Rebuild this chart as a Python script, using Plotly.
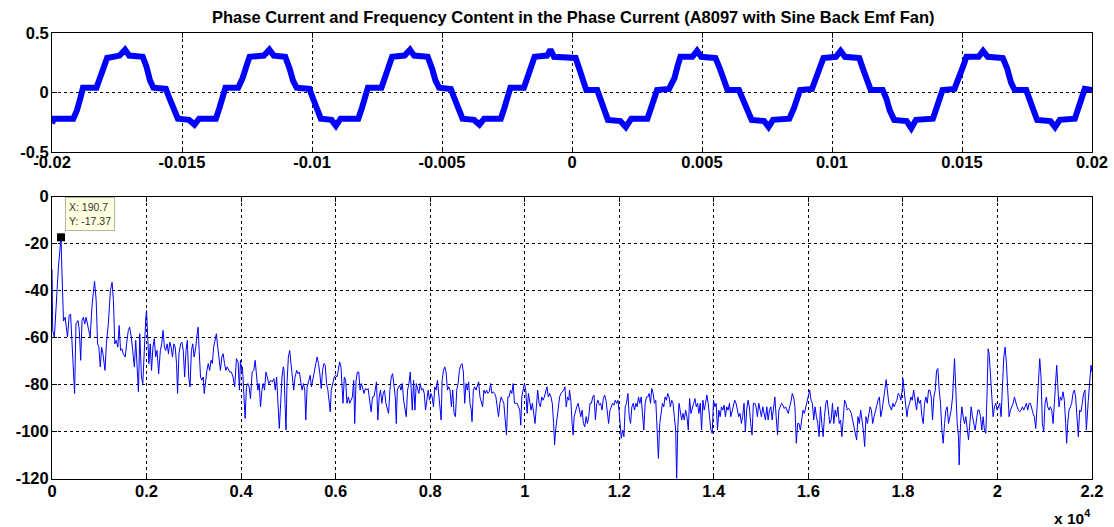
import plotly.graph_objects as go

# ---------------------------------------------------------------------------
# Data
# ---------------------------------------------------------------------------
title_text = ("Phase Current and Frequency Content in the Phase Current "
              "(A8097 with Sine Back Emf Fan)")

# Phase current waveform (time in ms, current in A)
time_ms = [
    -20.00, -19.93, -19.18, -19.04, -18.90, -18.81, -18.29, -18.18, -18.01, -17.88,
    -17.40, -17.19, -17.03, -16.51, -16.37, -16.23, -16.10, -15.62, -15.48, -15.30,
    -15.16, -14.73, -14.52, -14.34, -13.70, -13.56, -13.42, -13.33, -12.84, -12.67,
    -12.51, -12.40, -11.85, -11.64, -11.47, -11.03, -10.86, -10.73, -10.59, -10.10,
    -9.96, -9.79, -9.66, -9.25, -9.08, -8.90, -8.22, -8.08, -7.95, -7.85,
    -7.33, -7.19, -7.03, -6.92, -6.44, -6.23, -6.07, -5.55, -5.38, -5.25,
    -5.11, -4.66, -4.52, -4.34, -4.21, -3.77, -3.56, -3.38, -2.74, -2.60,
    -2.47, -2.37, -1.85, -1.71, -1.55, -1.44, -0.96, -0.83, -0.69, 0.14,
    0.28, 0.48, 0.55, 0.97, 1.10, 1.24, 1.38, 1.86, 2.07, 2.28,
    2.90, 3.04, 3.18, 3.27, 3.73, 3.94, 4.07, 4.17, 4.63, 4.81,
    4.97, 5.52, 5.69, 5.87, 5.98, 6.42, 6.56, 6.74, 6.91, 7.39,
    7.56, 7.73, 8.36, 8.54, 8.67, 8.77, 9.23, 9.39, 9.56, 9.67,
    10.15, 10.33, 10.50, 11.05, 11.19, 11.35, 11.49, 11.95, 12.09, 12.22,
    12.39, 12.87, 13.05, 13.23, 13.88, 14.02, 14.16, 14.25, 14.71, 14.89,
    15.06, 15.17, 15.64, 15.81, 15.99, 16.57, 16.74, 16.89, 17.03, 17.47,
    17.61, 17.75, 17.89, 18.40, 18.58, 18.76, 19.34, 19.48, 19.61, 19.72,
    20.00,
]
current_a = [
    -0.26, -0.22, -0.22, -0.15, -0.04, 0.04, 0.04, 0.10, 0.22, 0.29,
    0.31, 0.36, 0.31, 0.30, 0.22, 0.10, 0.04, 0.03, -0.05, -0.15,
    -0.22, -0.23, -0.27, -0.22, -0.22, -0.13, -0.02, 0.04, 0.04, 0.12,
    0.23, 0.30, 0.31, 0.36, 0.31, 0.30, 0.20, 0.10, 0.04, 0.03,
    -0.05, -0.15, -0.22, -0.23, -0.28, -0.22, -0.22, -0.13, -0.02, 0.04,
    0.04, 0.12, 0.23, 0.30, 0.31, 0.36, 0.31, 0.30, 0.20, 0.10,
    0.04, 0.03, -0.05, -0.15, -0.22, -0.23, -0.27, -0.22, -0.22, -0.13,
    -0.02, 0.04, 0.04, 0.12, 0.23, 0.30, 0.31, 0.36, 0.30, 0.29,
    0.20, 0.06, 0.02, 0.02, -0.05, -0.13, -0.23, -0.24, -0.29, -0.22,
    -0.22, -0.13, -0.02, 0.02, 0.03, 0.12, 0.23, 0.30, 0.30, 0.35,
    0.30, 0.29, 0.20, 0.08, 0.02, 0.02, -0.05, -0.15, -0.23, -0.24,
    -0.29, -0.23, -0.22, -0.13, -0.04, 0.02, 0.03, 0.12, 0.23, 0.29,
    0.30, 0.35, 0.30, 0.29, 0.20, 0.08, 0.02, 0.02, -0.05, -0.15,
    -0.23, -0.24, -0.30, -0.23, -0.22, -0.13, -0.02, 0.02, 0.03, 0.12,
    0.23, 0.30, 0.30, 0.35, 0.30, 0.29, 0.20, 0.08, 0.02, 0.02,
    -0.05, -0.15, -0.23, -0.24, -0.29, -0.23, -0.22, -0.13, -0.02, 0.03,
    0.02,
]

# Spectrum of the phase current (frequency in Hz, magnitude in dB)
freq_hz = [
    0, 15, 50, 79, 107, 136, 164, 190.7, 207, 221, 243, 278, 300, 328, 364, 393,
    421, 457, 478, 507, 550, 578, 607, 635, 664, 693, 721, 764, 807, 850, 900, 935,
    964, 992, 1021, 1050, 1078, 1121, 1150, 1192, 1235, 1271, 1300, 1328, 1357, 1392,
    1421, 1450, 1478, 1507, 1550, 1578, 1614, 1642, 1678, 1707, 1742, 1771, 1800, 1828,
    1857, 1892, 1921, 1956, 1985, 2000, 2021, 2049, 2078, 2106, 2135, 2164, 2192, 2221,
    2256, 2292, 2321, 2349, 2378, 2406, 2435, 2464, 2492, 2521, 2549, 2578, 2606, 2635,
    2656, 2685, 2720, 2749, 2777, 2806, 2835, 2863, 2892, 2920, 2949, 2977, 3006, 3042,
    3070, 3092, 3113, 3142, 3170, 3199, 3220, 3249, 3277, 3306, 3335, 3363, 3392, 3420,
    3449, 3477, 3506, 3535, 3563, 3592, 3620, 3649, 3678, 3706,
    3759, 3794, 3830, 3865, 3901, 3936, 3965, 3986, 4007, 4028, 4057, 4085, 4113, 4142,
    4170, 4199, 4234, 4269, 4298, 4326, 4355, 4383, 4411, 4440, 4468, 4496, 4525, 4553,
    4588, 4624, 4659, 4695, 4723, 4752, 4780, 4808, 4837, 4865, 4893, 4908, 4929, 4950,
    4971, 5000, 5028, 5056, 5085, 5113, 5141, 5177, 5205, 5234, 5262, 5290, 5319, 5347,
    5368, 5397, 5425, 5461, 5489, 5517, 5553, 5581, 5609, 5638, 5666, 5695, 5723, 5751,
    5780, 5808, 5836, 5865, 5886, 5907, 5936, 5971, 6000, 6028, 6056, 6084, 6113, 6134,
    6155, 6184, 6212, 6240, 6269, 6297, 6326, 6354, 6382, 6404, 6432, 6460, 6489, 6517,
    6545, 6574, 6602, 6630, 6659, 6687, 6715, 6751, 6779, 6808, 6836, 6864, 6893, 6921,
    6949, 6978, 7006, 7034, 7063, 7091, 7120, 7148, 7176, 7205, 7233, 7261, 7283, 7304,
    7332,
    7354, 7382, 7410, 7438, 7466, 7494, 7522, 7551, 7579, 7600, 7621, 7649, 7677, 7705,
    7733, 7761, 7789, 7817, 7846, 7874, 7902, 7930, 7958, 7986, 8014, 8042, 8070, 8098,
    8126, 8154, 8183, 8211, 8232, 8253, 8281, 8309, 8337, 8365, 8393, 8421, 8449, 8477,
    8505, 8534, 8562, 8590, 8618, 8646, 8674, 8702, 8730, 8758, 8786, 8814, 8842, 8870,
    8885, 8913, 8941, 8969, 8997, 9025, 9053, 9081, 9109, 9137, 9165, 9193, 9221, 9250,
    9278, 9306, 9334, 9362, 9390, 9418, 9446, 9474, 9502, 9530, 9558, 9587, 9615, 9643,
    9671, 9699, 9727, 9755, 9783, 9811, 9839, 9867, 9895, 9916, 9938, 9966, 9994, 10022,
    10050, 10078, 10106, 10134, 10162, 10190, 10218, 10246, 10274, 10303, 10331, 10359,
    10387, 10415, 10443, 10471, 10499, 10527, 10555, 10583, 10611, 10632, 10654, 10682,
    10710, 10738, 10766, 10794, 10822, 10850, 10878, 10906, 10934,
    10947, 10975, 11003, 11024, 11045, 11073, 11101, 11130, 11158, 11186, 11214, 11242,
    11270, 11298, 11326, 11354, 11382, 11410, 11438, 11466, 11495, 11523, 11551, 11579,
    11607, 11635, 11663, 11691, 11719, 11747, 11775, 11803, 11832, 11860, 11888, 11916,
    11944, 11972, 12000, 12021, 12042, 12070, 12098, 12126, 12154, 12183, 12211, 12239,
    12267, 12295, 12323, 12351, 12379, 12407, 12435, 12463, 12491, 12519, 12548, 12576,
    12604, 12632, 12660, 12688, 12716, 12744, 12772, 12800, 12828, 12856, 12885, 12913,
    12941, 12969, 12997, 13025, 13053, 13081, 13109, 13137, 13165, 13193, 13214, 13236,
    13264, 13292, 13320, 13348, 13376, 13404, 13432, 13460, 13488, 13517, 13545, 13573,
    13601, 13629, 13657, 13685, 13713, 13741, 13769, 13797, 13825, 13853, 13881, 13909,
    13938, 13966, 13994, 14022, 14050, 14078, 14106, 14134, 14162, 14190, 14218, 14246,
    14274, 14303, 14331, 14359, 14387, 14415, 14443, 14471, 14499, 14527, 14555, 14583,
    14610, 14639, 14667, 14695, 14724, 14752, 14780, 14809, 14837, 14866, 14894, 14922,
    14951, 14979, 15007, 15036, 15064, 15092, 15121, 15149, 15178, 15206, 15234, 15263,
    15291, 15319, 15348, 15376, 15404, 15433, 15461, 15490, 15518, 15546, 15575, 15603,
    15631, 15660, 15688, 15716, 15745, 15773, 15801, 15830, 15858, 15887, 15915, 15943,
    15972, 16000, 16028, 16057, 16085, 16113, 16142, 16170, 16199, 16227, 16255, 16284,
    16312, 16340, 16369, 16397, 16425, 16454, 16482, 16510, 16539, 16567, 16596, 16624,
    16652, 16681, 16709, 16737, 16766, 16794, 16822, 16851, 16879, 16908, 16936, 16964,
    16993, 17021, 17049, 17078, 17106, 17134, 17163, 17191, 17219, 17248, 17276, 17305,
    17333, 17361, 17390, 17418, 17446, 17475, 17503, 17531, 17560, 17588, 17617, 17645,
    17673, 17702, 17730, 17758, 17787, 17815, 17843, 17872, 17900, 17928, 17957, 17985,
    18000, 18028, 18057, 18085, 18113, 18142, 18170, 18198, 18227,
    18261, 18289, 18317, 18346, 18374, 18402, 18430, 18458, 18486, 18515, 18543, 18571,
    18599, 18627, 18655, 18684, 18712, 18740, 18768, 18796, 18824, 18852, 18881, 18909,
    18937, 18965, 18993, 19021, 19050, 19078, 19092, 19120, 19148, 19176, 19190, 19219,
    19247, 19275, 19303, 19331, 19359, 19388, 19416, 19444, 19472, 19500, 19528, 19557,
    19585, 19613, 19641, 19669, 19697, 19725, 19754, 19782, 19803, 19824, 19852, 19880,
    19908, 19937, 19965, 19993, 20021, 20049, 20077, 20106, 20134, 20162, 20190, 20218,
    20246, 20275, 20303, 20331, 20359, 20387, 20415, 20444, 20472, 20500, 20528, 20556,
    20584, 20612, 20641, 20669, 20697, 20725, 20753, 20781, 20810, 20838, 20866, 20894,
    20922, 20950, 20979, 21007, 21035, 21063, 21091, 21119, 21148, 21176, 21204, 21232,
    21253, 21274, 21302, 21330, 21359, 21387, 21415, 21443, 21464, 21486, 21514, 21542,
    21570, 21598, 21626, 21654, 21683, 21711, 21739, 21767, 21795, 21823, 21852, 21880,
    21922, 21950, 21979, 22000,
]
mag_db = [
    -31, -57, -60, -52, -40, -30, -22, -17.37, -30, -44, -53, -51.4, -54.2, -59.8, -50.6, -50,
    -61.2, -75.4, -83.8, -54.2, -52.8, -57, -69.7, -52.8, -51.4, -54.2, -51.4, -55.6, -59.8, -45.7, -36.1, -44.3,
    -62.7, -64.1, -72.5, -64.1, -66.9, -74, -62.7, -54.2, -40, -36.5, -44.3, -62.7, -61.2, -64.1,
    -54.9, -65.5, -64.8, -66.9, -68.3, -62.7, -57, -55.6, -59.8, -65.5, -72.5, -61.2, -74, -83.1,
    -58.4, -76.8, -79.6, -59.8, -51.4, -48.5, -61.2, -71.1, -62.7, -74, -64.1, -60.5, -68.3, -65.5,
    -75.4, -65.5, -62.7, -57, -64.1, -65.5, -62.7, -66.9, -62, -64.1, -68.3, -62.7, -64.1, -71.1,
    -83.8, -66.9, -62.7, -62, -65.5, -76.8, -65.5, -61.2, -76.8, -81, -65.5, -62.7, -68.3, -64.1,
    -58.4, -55.6, -65.5, -76.8, -78.2, -76.8, -83.8, -78.2, -74, -71.1, -74, -69.7, -71.1, -64.1,
    -60.5, -58.4, -64.1, -71.1, -74, -68.3, -66.9, -71.1, -74, -72.5,
    -74.7, -74.7, -76.8, -81, -69, -70.4, -82.4, -69.7, -74, -72.5, -85.3, -94.4, -81, -79.6,
    -81, -86, -74.7, -74, -69.7, -75.4, -82.4, -79.6, -89.5, -82.4, -79.6, -82.4, -74.7, -76.8,
    -79.6, -78.2, -78.9, -77.5, -82.4, -76.8, -85.3, -98.7, -88, -76.8, -72.5, -74, -88, -99.4,
    -79.6, -68.3, -65.5, -71.1, -74, -82.4, -76.8, -74, -75.4, -74.7, -78.9, -82.4, -79.6, -82.4,
    -95.1, -81, -78.9, -76.1, -81, -77.5, -74, -71.1, -68.3, -71.1, -75.4, -81.7, -74, -71.1,
    -71.8, -79.6, -82.4, -88, -91.6, -82.4, -79.6, -76.8, -76.1, -76.8, -74, -70.4, -72.5, -82.4,
    -88, -76.8, -78.2, -88, -85.3, -88, -86.7, -85.3, -78.2, -96.6, -78.2, -74.7, -74.7, -82.4,
    -79.6, -82.4, -83.8, -81.7, -82.4, -81.7, -85.3, -91.6, -85.3, -85.3, -82.4, -78.9, -95.1, -85.3,
    -82.4, -88, -83.8, -82.4, -88, -90.2, -92.3, -82.4, -76.8, -75.4, -81, -85.3, -96.6, -82.4,
    -81,
    -80.3, -82.4, -79.6, -86.7, -89.5, -93.7, -82.4, -79.6, -74.7, -82.4, -90.9, -78.2, -90.9, -79.6,
    -82.4, -83.8, -79.6, -82.4, -81.7, -83.8, -90.9, -85.3, -82.4, -86.7, -83.8, -85.3, -89.5, -81,
    -82.4, -78.2, -85.3, -89.5, -95.1, -78.2, -74, -72.5, -74.7, -82.4, -81, -82.4, -89.5, -82.4,
    -92.3, -93.7, -82.4, -79.6, -74, -71.8, -71.1, -74.7, -88, -79.6, -82.4, -78.9, -88, -90.9,
    -95.8, -82.4, -81, -82.4, -81, -78.9, -85.3, -88, -89.5, -82.4, -83.8, -82.4, -83.8, -83.1,
    -79.6, -83.8, -83.1, -83.8, -85.3, -89.5, -93.7, -88, -85.3, -86.7, -88, -95.1, -101.5, -85.3,
    -85.3, -82.4, -83.8, -79.6, -88, -88, -88, -89.5, -90.9, -97.3, -85.3, -82.4, -79.6, -82.4,
    -92.3, -83.8, -88, -90.9, -88, -93.7, -96.6, -89.5, -82.4, -88, -89.5, -85.3,
    -86.7, -85.3, -82.4, -81, -85.3, -83.8, -85.3, -88, -96.6, -105.7, -99.4, -93.7,
    -89.5, -85.3, -83.8, -83.1, -82.4, -81, -89.5, -85.3, -86.7,
    -82.4, -86.7, -96.6, -101.5, -93.7, -90.9, -89.5, -88, -90.9, -93.7, -90.9, -96.6,
    -98, -93.7, -96.6, -93.7, -88, -88, -85.3, -84.5, -95.1, -88, -86.7, -88.8,
    -88, -90.9, -86, -84.5, -86.7, -90.9, -96.6, -90.9, -89.5, -88, -88.8, -86.7,
    -88, -86.7, -92.3, -96.6, -102.9, -99.4, -102.2, -89.5, -88, -83.8, -93.7, -96.6,
    -89.5, -88, -90.9, -88, -89.5, -85.3, -88, -85.3, -92.3, -99.4, -88, -85.3,
    -85.3, -83.8, -88, -81.7, -83.8, -88, -86.7, -96.6, -111.4, -96.6, -90.9, -88,
    -89.5, -85.3, -86.7, -83.8, -85.3, -89.5, -86.7, -88, -93.7, -99.4, -120, -99.4,
    -88, -90.9, -95.1, -92.3, -95.1, -90.9, -93.7, -99.4, -86, -92.3, -89.5, -88,
    -86, -89.5, -88, -92.3, -88, -99.4, -86.7, -90.9, -88, -84.5, -88, -93.7,
    -99.4, -100.8, -86.7, -89.5, -88, -99.4, -90.9, -93.7, -89.5, -90.9, -88.8, -93.7,
    -89.5, -90.9, -88, -93.7, -90.9, -88, -86.7, -88, -90.9, -93.7, -92.3, -96.6,
    -93.7, -88, -100.1, -90.9, -86.7, -89.5, -96.6, -101.5, -88, -88, -89.5, -93.7,
    -88, -90.9, -93.7, -89.5, -92.3, -95.1, -89.5, -95.1, -90.9, -89.5, -95.1, -89.5,
    -85.3, -93.7, -101.5, -90.9, -89.5, -88, -88.8, -90.2, -89.5, -90.9, -92.3, -89.5,
    -87.4, -83.8, -85.3, -89.5, -105, -96.6, -96.6, -99.4, -95.1, -90.9, -92.3, -89.5,
    -88, -83.8, -82.4, -86.7, -88, -95.1, -89.5, -93.7, -96.6, -102.2, -89.5, -96.6,
    -102.2, -93.7, -88, -86.7, -90.9, -96.6, -95.1, -88, -96.6, -90.9, -93.7, -89.5,
    -96.6, -95.1, -102.2, -93.7, -86.7, -88, -90.9, -90.2, -90.9, -92.3, -95.1, -99.4,
    -100.8, -103.6, -93.7, -96.6, -90.9, -95.1, -99.4, -106.4, -93.7, -96.6, -93.7, -89.5,
    -90.9, -96.6, -93.7, -90.9, -89.5, -86.7, -85.3, -93.7, -90.9, -85.3, -82.4, -77.9,
    -82.4, -88, -89.5, -90.9, -88, -89.5, -88, -86.7, -83.8, -84.5, -86.7, -82.4,
    -77.5, -82.4, -88, -93.7, -89.5, -88, -85.3, -86.7, -82.4,
    -88, -90.9, -85.3, -88, -86.7, -93.7, -96.6, -88, -85.3, -88, -82.4, -82.4,
    -85.3, -95.1, -85.3, -82.4, -74, -73.2, -82.4, -88, -99.4, -105, -96.6, -90.9,
    -89.5, -96.6, -93.7, -90.9, -85.3, -71.1, -69, -82.4, -96.6, -102.2, -114.2, -96.6,
    -89.5, -93.7, -96.6, -93.7, -99.4, -103.6, -96.6, -89.5, -93.7, -96.6, -99.4, -95.1,
    -90.9, -90.9, -93.7, -99.4, -93.7, -99.4, -100.8, -82.4, -64.8, -66.9, -76.8, -88,
    -93.7, -89.5, -88, -90.9, -89.5, -88, -93.7, -82.4, -68.3, -64.1, -71.1, -82.4,
    -93.7, -90.9, -89.5, -88, -85.3, -88, -89.5, -90.9, -91.6, -90.9, -89.5, -90.9,
    -89.5, -88, -90.9, -88, -88, -90.9, -92.3, -93.7, -98.7, -89.5, -76.8, -69,
    -76.8, -96.6, -100.1, -88, -85.3, -89.5, -90.9, -89.5, -90.9, -96.6, -88, -81,
    -71.8, -79.6, -89.5, -85.3, -86.7, -83.1, -86.7, -96.6, -105, -96.6, -90.9, -89.5,
    -88, -83.8, -82.4, -85.3, -96.6, -102.2, -90.9, -91.6, -88, -83.8, -82.4, -99.4,
    -86.7, -76.8, -71.8, -74.7,
]

# Data cursor on the fundamental
peak_hz = 190.7
peak_db = -17.37

# Tick positions and labels
t_ticks = [-0.02, -0.015, -0.01, -0.005, 0, 0.005, 0.01, 0.015, 0.02]
t_ticklabels = ["-0.02", "-0.015", "-0.01", "-0.005", "0", "0.005", "0.01", "0.015", "0.02"]
i_ticks = [-0.5, 0, 0.5]
i_ticklabels = ["-0.5", "0", "0.5"]
f_ticks = [0, 2000, 4000, 6000, 8000, 10000, 12000, 14000, 16000, 18000, 20000, 22000]
f_ticklabels = ["0", "0.2", "0.4", "0.6", "0.8", "1", "1.2", "1.4", "1.6", "1.8", "2", "2.2"]
db_ticks = [-120, -100, -80, -60, -40, -20, 0]
db_ticklabels = ["-120", "-100", "-80", "-60", "-40", "-20", "0"]

# ---------------------------------------------------------------------------
# Figure
# ---------------------------------------------------------------------------
W, H = 1114, 527


def px_x(x):
    return x / W


def px_y(y):
    return 1 - y / H


FONT = "Liberation Sans, Arial, Helvetica, sans-serif"
LINE_BLUE = "#0000FF"

fig = go.Figure()

fig.add_trace(go.Scatter(
    x=[t / 1000 for t in time_ms], y=current_a, mode="lines",
    line=dict(color=LINE_BLUE, width=6), xaxis="x", yaxis="y",
    hoverinfo="skip", showlegend=False,
))
fig.add_trace(go.Scatter(
    x=freq_hz, y=mag_db, mode="lines",
    line=dict(color=LINE_BLUE, width=1), xaxis="x2", yaxis="y2",
    hoverinfo="skip", showlegend=False,
))
fig.add_trace(go.Scatter(
    x=[peak_hz], y=[peak_db], mode="markers",
    marker=dict(symbol="square", size=8, color="black"),
    xaxis="x2", yaxis="y2", cliponaxis=False,
    hoverinfo="skip", showlegend=False,
))

axis_style = dict(
    automargin=False,
    showline=True, linecolor="black", linewidth=1, mirror="ticks",
    ticks="inside", ticklen=5, tickcolor="black",
    showgrid=True, gridcolor="black", griddash="3px,3px", gridwidth=1,
    zeroline=False,
    tickfont=dict(family=FONT, size=16.5, color="black", weight="bold"),
)

x_dom = [px_x(52), px_x(1092)]

fig.update_layout(
    width=W, height=H,
    margin=dict(l=0, r=0, t=0, b=0, autoexpand=False),
    paper_bgcolor="white", plot_bgcolor="white",
    xaxis=dict(domain=x_dom, range=[-0.02, 0.02], tickvals=t_ticks,
               ticktext=t_ticklabels, anchor="y", ticklabelstandoff=-5, **axis_style),
    yaxis=dict(domain=[px_y(152), px_y(33)], range=[-0.5, 0.5], tickvals=i_ticks,
               ticktext=i_ticklabels, anchor="x", ticklabelstandoff=-1, **axis_style),
    xaxis2=dict(domain=x_dom, range=[0, 22000], tickvals=f_ticks,
                ticktext=f_ticklabels, anchor="y2", ticklabelstandoff=-2, **axis_style),
    yaxis2=dict(domain=[px_y(478.5), px_y(196.5)], range=[-120, 0], tickvals=db_ticks,
                ticktext=db_ticklabels, anchor="x2", ticklabelstandoff=-1, **axis_style),
)

annotations = [
    dict(text=title_text, xref="paper", yref="paper",
         x=px_x(573), y=px_y(17), xanchor="center", yanchor="middle",
         showarrow=False, font=dict(family=FONT, size=16.5, color="black", weight="bold")),
    dict(text="x 10<sup>4</sup>", xref="paper", yref="paper",
         x=px_x(1092), y=px_y(517), xanchor="right", yanchor="middle",
         showarrow=False, font=dict(family=FONT, size=15.5, color="black", weight="bold")),
    dict(text=f"X: {peak_hz}<br>Y: {peak_db}", xref="paper", yref="paper",
         x=px_x(65), y=px_y(197), xanchor="left", yanchor="top", align="left",
         showarrow=False, bgcolor="#FFFFE1", bordercolor="#B4B4A0", borderwidth=1,
         borderpad=3, font=dict(family=FONT, size=10.5, color="#333333")),
]
fig.update_layout(annotations=annotations)

fig.write_html("out.html")
